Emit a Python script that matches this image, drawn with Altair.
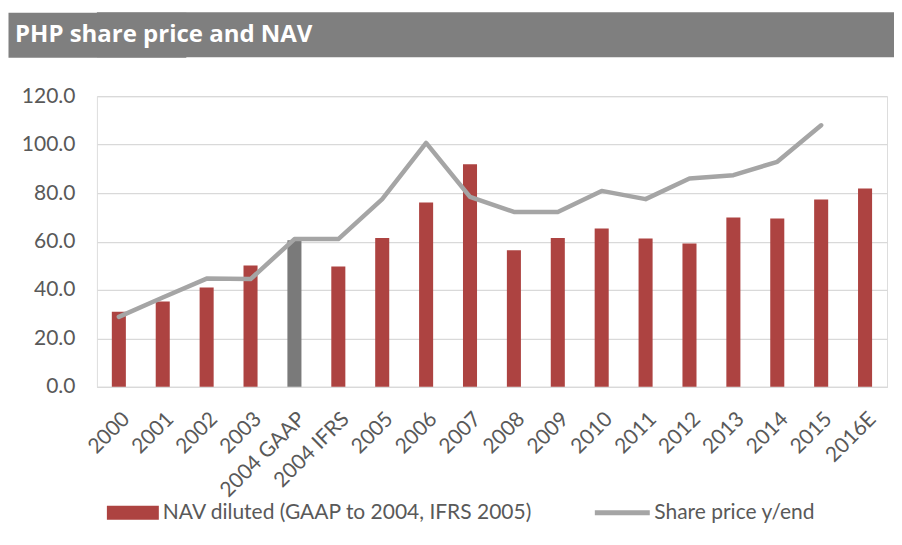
import altair as alt
import pandas as pd

title_text = ["PHP share price and NAV"]
categories = ["2000", "2001", "2002", "2003", "2004 GAAP", "2004 IFRS", "2005", "2006",
              "2007", "2008", "2009", "2010", "2011", "2012", "2013", "2014", "2015", "2016E"]
nav_values = [31.0, 35.2, 41.0, 50.1, 60.5, 49.7, 61.5, 76.1, 91.9, 56.4, 61.5, 65.4,
              61.2, 59.2, 69.9, 69.5, 77.4, 81.9]
price_values = [28.9, 36.9, 44.7, 44.5, 61.0, 61.0, 77.5, 100.7, 78.4, 72.2, 72.2, 80.9,
                77.5, 86.0, 87.4, 92.9, 108.0, None]
nav_name = "NAV diluted (GAAP to 2004, IFRS 2005)"
price_name = "Share price y/end"
y_ticks = [0, 20, 40, 60, 80, 100, 120]

df = pd.DataFrame({
    "cat": categories,
    "nav": nav_values,
    "price": price_values,
    "nav_series": [nav_name] * len(categories),
    "price_series": [price_name] * len(categories),
})

FONT = "Lato"
FS = 21
TXT = "#595959"
BANNER = "#7F7F7F"

x_enc = alt.X("cat:N", sort=categories,
              scale=alt.Scale(paddingInner=0.68, paddingOuter=0.34),
              axis=alt.Axis(title=None, labelAngle=-45, ticks=False, domainColor="#D9D9D9",
                            labelFontSize=FS, labelColor=TXT, labelFont=FONT, labelPadding=21))

bars = alt.Chart(df).mark_bar().encode(
    x=x_enc,
    y=alt.Y("nav:Q", scale=alt.Scale(domain=[0, 120], nice=False),
            axis=alt.Axis(title=None, values=y_ticks, format=".1f", grid=True,
                          gridColor="#D9D9D9", gridWidth=1.3, domain=False, ticks=False,
                          labelFontSize=FS, labelColor=TXT, labelFont=FONT,
                          labelPadding=22, minExtent=88)),
    fill=alt.condition("datum.cat == '2004 GAAP'", alt.value("#7A7A7A"),
                       alt.Fill("nav_series:N",
                                scale=alt.Scale(domain=[nav_name], range=["#AD4341"]),
                                legend=alt.Legend(title=None, orient="none", legendX=10, legendY=475,
                                                  symbolType="M-1,-0.27H1V0.27H-1Z",
                                                  symbolSize=2704, symbolStrokeWidth=0,
                                                  labelFontSize=FS, labelColor=TXT, labelFont=FONT,
                                                  labelOffset=4, labelLimit=600, padding=0))),
)

line = alt.Chart(df).mark_line(strokeWidth=4.5, strokeCap="round", strokeJoin="round").encode(
    x=alt.X("cat:N", sort=categories),
    y=alt.Y("price:Q"),
    stroke=alt.Stroke("price_series:N",
                      scale=alt.Scale(domain=[price_name], range=["#A5A5A5"]),
                      legend=alt.Legend(title=None, orient="none", legendX=496, legendY=471,
                                        symbolType="stroke", symbolSize=3025,
                                        symbolStrokeWidth=5,
                                        labelFontSize=FS, labelColor=TXT, labelFont=FONT,
                                        labelOffset=2, labelLimit=600, padding=0)),
)

main = alt.layer(bars, line).properties(width=791, height=291)

header = alt.Chart(pd.DataFrame({"t": title_text})).mark_text(
    align="left", baseline="middle", font="Open Sans", fontWeight="bold",
    fontSize=24, color="white"
).encode(
    text="t:N",
    x=alt.value(-82),
    y=alt.Y("t:N", axis=alt.Axis(title=None, labels=False, ticks=False, grid=False,
                                 domainColor=BANNER, domainWidth=178, domainCap="butt",
                                 minExtent=88)),
).properties(width=798, height=45,
             view=alt.ViewBackground(fill=BANNER, strokeWidth=0))

chart = alt.vconcat(header, main, spacing=27).properties(
    padding={"left": 0, "top": 4, "right": 0, "bottom": 0}
).configure_view(strokeWidth=0).configure(background="white")

chart.save("out.html", embed_options={"renderer": "svg", "actions": False})
